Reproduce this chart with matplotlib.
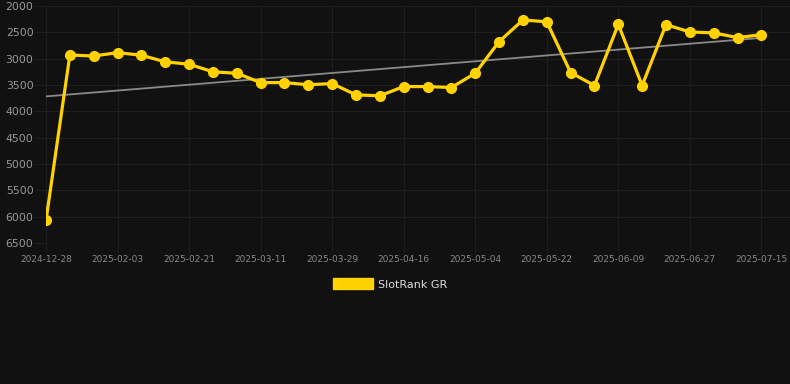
import numpy as np
import matplotlib.pyplot as plt
from matplotlib.patches import Patch

# fechas de las categorias (eje x por categorias)
dates = ["2024-12-28", "2025-01-22", "2025-01-28", "2025-02-03", "2025-02-09",
         "2025-02-15", "2025-02-21", "2025-02-27", "2025-03-05", "2025-03-11",
         "2025-03-17", "2025-03-23", "2025-03-29", "2025-04-04", "2025-04-10",
         "2025-04-16", "2025-04-22", "2025-04-28", "2025-05-04", "2025-05-10",
         "2025-05-16", "2025-05-22", "2025-05-28", "2025-06-03", "2025-06-09",
         "2025-06-15", "2025-06-21", "2025-06-27", "2025-07-03", "2025-07-09",
         "2025-07-15"]
rank = [6070, 2930, 2950, 2885, 2935, 3060, 3105, 3250, 3277, 3454,
        3454, 3495, 3473, 3688, 3705, 3530, 3530, 3548, 3277, 2677,
        2265, 2300, 3264, 3510, 2348, 3510, 2354, 2493, 2510, 2600,
        2544]
yticks = [2000, 2500, 3000, 3500, 4000, 4500, 5000, 5500, 6000, 6500]

bg = "#111111"
grid = "#1f1f1f"
gold = "#FFD200"

fig = plt.figure(figsize=(7.9, 3.84), dpi=100)
fig.patch.set_facecolor(bg)
ax = fig.add_axes([46/790, 141/384, 744/790, 237/384])
ax.set_facecolor(bg)

x = np.arange(len(dates))

# linea de tendencia (regresion lineal)
a, b = np.polyfit(x, rank, 1)
ax.plot(x, a*x + b, color="#8a8a8a", lw=1.3, zorder=2)

ax.plot(x, rank, color=gold, lw=2.3, marker="o", markersize=7,
        markerfacecolor=gold, markeredgecolor=gold, zorder=3)

ax.set_xlim(0, 31.2)
ax.set_ylim(6500, 2000)
ax.set_yticks(yticks)
ax.set_xticks(x[::3])
ax.set_xticklabels(dates[::3])

for s in ax.spines.values():
    s.set_visible(False)
ax.grid(True, color=grid, lw=0.8)
ax.set_axisbelow(True)
ax.tick_params(axis="x", colors=grid, labelcolor="#888888", labelsize=6.5,
               length=7, width=0.8, pad=2)
ax.tick_params(axis="y", colors=grid, labelcolor="#999999", labelsize=7.8,
               length=8, width=0.8, pad=1)

fig.legend(handles=[Patch(facecolor=gold, edgecolor=gold)], labels=["SlotRank GR"],
           loc="center", bbox_to_anchor=(390/790, 1 - 284/384), frameon=False,
           fontsize=8, labelcolor="#dddddd", handlelength=3.6, handleheight=1.1,
           handletextpad=0.5)

fig.savefig("out.png", dpi=100, facecolor=bg)
